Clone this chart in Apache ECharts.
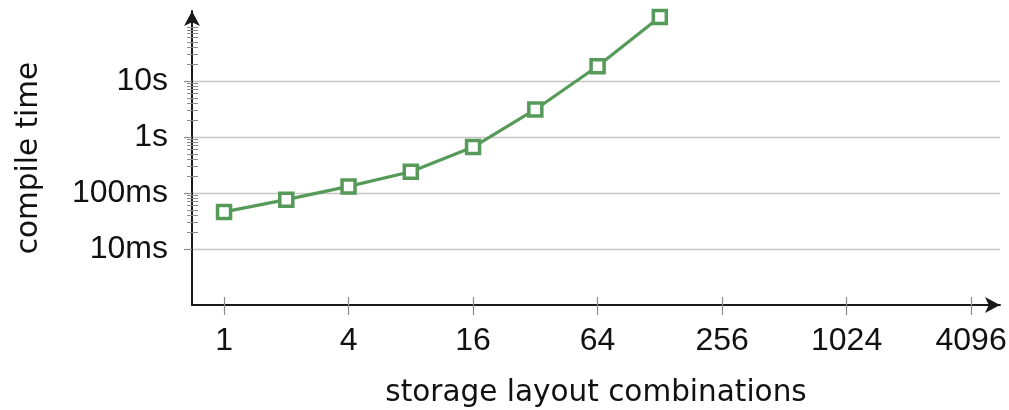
<!DOCTYPE html>
<html>
<head>
<meta charset="utf-8">
<script src="https://cdn.jsdelivr.net/npm/echarts@6/dist/echarts.min.js"></script>
<style>
html,body{margin:0;padding:0;background:#fff;}
#chart{width:1009px;height:410px;}
</style>
</head>
<body>
<div id="chart"></div>
<script>
// ---- data ----
const layoutCombinations = [1, 2, 4, 8, 16, 32, 64, 128];
const compileTimeSeconds = [0.046, 0.076, 0.131, 0.240, 0.66, 3.1, 18.3, 139];
const xTickValues = [1, 4, 16, 64, 256, 1024, 4096];
const yTickValues = [0.01, 0.1, 1, 10];
const yMinorMultipliers = [2, 3, 4, 5, 6, 7, 8, 9];
const yMinorTickValues = yTickValues.flatMap(t => yMinorMultipliers.map(k => k * t));

const X_MIN = 0.7, X_MAX = 5650;
const Y_MIN = 0.001, Y_MAX = 177.8;
const LABEL_FONT = '"Liberation Sans", Arial, sans-serif';
const TITLE_FONT = '"DejaVu Sans", sans-serif';
const GREEN = '#559a59';
const TICK = '#8a8a8a';

function fmtTime(v) {
  if (v < 1) return Math.round(v * 1000) + 'ms';
  return Math.round(v) + 's';
}

const baseX = {
  type: 'log', logBase: 2, min: X_MIN, max: X_MAX,
  splitLine: { show: false }, minorTick: { show: false }
};
const baseY = {
  type: 'log', logBase: 10, min: Y_MIN, max: Y_MAX,
  minorTick: { show: false }, minorSplitLine: { show: false }
};

const chart = echarts.init(document.getElementById('chart'), null, { renderer: 'canvas' });
chart.setOption({
  animation: false,
  backgroundColor: '#ffffff',
  grid: { left: 192, right: 9, top: 11, bottom: 105, containLabel: false, outerBoundsMode: 'none' },
  xAxis: [
    Object.assign({}, baseX, {
      position: 'bottom',
      name: 'storage layout combinations',
      nameLocation: 'middle',
      nameGap: 73,
      nameTextStyle: { fontFamily: TITLE_FONT, fontSize: 29.5, color: '#111' },
      axisLine: { show: true, symbol: ['none', 'arrow'], symbolSize: [12, 15],
                  lineStyle: { color: '#1a1a1a', width: 2 } },
      axisTick: { show: true, inside: false, length: 10, customValues: xTickValues,
                  lineStyle: { color: TICK, width: 1.2 } },
      axisLabel: { show: true, customValues: xTickValues, margin: 20,
                   fontFamily: LABEL_FONT, fontSize: 32, color: '#111',
                   formatter: v => String(Math.round(v)) }
    }),
    Object.assign({}, baseX, {
      position: 'bottom',
      axisLine: { show: false },
      axisTick: { show: true, inside: true, length: 8, customValues: xTickValues,
                  lineStyle: { color: TICK, width: 1.2 } },
      axisLabel: { show: false }
    })
  ],
  yAxis: [
    Object.assign({}, baseY, {
      position: 'left',
      name: 'compile time',
      nameLocation: 'middle',
      nameGap: 148,
      nameRotate: 90,
      nameTextStyle: { fontFamily: TITLE_FONT, fontSize: 29.5, color: '#111' },
      axisLine: { show: true, symbol: ['none', 'arrow'], symbolSize: [12, 15],
                  lineStyle: { color: '#1a1a1a', width: 2 } },
      axisTick: { show: true, inside: false, length: 8, customValues: yTickValues,
                  lineStyle: { color: TICK, width: 1.2 } },
      axisLabel: { show: true, customValues: yTickValues, margin: 24,
                   fontFamily: LABEL_FONT, fontSize: 32, color: '#111',
                   formatter: v => fmtTime(v) },
      splitLine: { show: true, lineStyle: { color: '#c4c4c4', width: 1.3 } }
    }),
    Object.assign({}, baseY, {
      position: 'left',
      axisLine: { show: false },
      axisTick: { show: true, inside: false, length: 5, customValues: yMinorTickValues,
                  lineStyle: { color: TICK, width: 1 } },
      axisLabel: { show: false },
      splitLine: { show: false }
    }),
    Object.assign({}, baseY, {
      position: 'left',
      axisLine: { show: false },
      axisTick: { show: true, inside: true, length: 6, customValues: yMinorTickValues,
                  lineStyle: { color: TICK, width: 1 } },
      axisLabel: { show: false },
      splitLine: { show: false }
    })
  ],
  series: [{
    type: 'line',
    xAxisIndex: 0,
    yAxisIndex: 0,
    clip: false,
    data: layoutCombinations.map((x, i) => [x, compileTimeSeconds[i]]),
    symbol: 'rect',
    symbolSize: 13,
    itemStyle: { color: '#ffffff', borderColor: GREEN, borderWidth: 3.5 },
    lineStyle: { color: GREEN, width: 3.2 },
    z: 5
  }]
});
</script>
</body>
</html>
